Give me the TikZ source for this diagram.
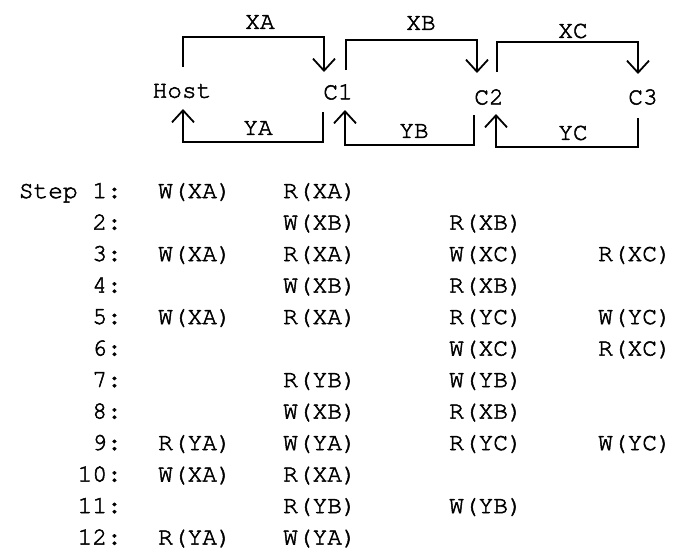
\documentclass[tikz,border=0pt]{standalone}
\usepackage{fontspec}
\setmonofont{texgyrecursor-regular.otf}[FakeBold=2]
\usetikzlibrary{arrows.meta}
\tikzset{
  lbl/.style={font=\ttfamily\fontsize{24.5}{24.5}\selectfont, inner sep=0pt},
  cell/.style={lbl, anchor=base west},
  stepno/.style={lbl, anchor=base east},
  flow/.style={line width=1.8pt, -{Straight Barb[length=12pt,width=22pt,line width=1.8pt]}},
}
\begin{document}
\begin{tikzpicture}[x=1pt,y=-1pt]
\fill[white] (0,0) rectangle (678,550);
\useasboundingbox (0,0) rectangle (678,550);
% top diagram
\node[lbl] (host) at (182,91) {Host};
\node[lbl] (c1) at (338,92) {C1};
\node[lbl] (c2) at (489,97) {C2};
\node[lbl] (c3) at (643,97) {C3};
\coordinate (xa1) at (183,67);  \coordinate (xa2) at (324,72);
\coordinate (xb1) at (346,70);  \coordinate (xb2) at (477,73);
\coordinate (xc1) at (497,72);  \coordinate (xc2) at (638,74);
\coordinate (ya1) at (323,112); \coordinate (ya2) at (183,109);
\coordinate (yb1) at (474,115); \coordinate (yb2) at (345,110);
\coordinate (yc1) at (638,118); \coordinate (yc2) at (496,114);
\draw[flow] (xa1) -- ++(0,-30) -| (xa2);
\draw[flow] (xb1) -- ++(0,-30) -| (xb2);
\draw[flow] (xc1) -- ++(0,-30) -| (xc2);
\draw[flow] (ya1) -- ++(0,30) -| (ya2);
\draw[flow] (yb1) -- ++(0,30) -| (yb2);
\draw[flow] (yc1) -- ++(0,29) -| (yc2);
\node[lbl] (lxa) at (260,22) {XA};
\node[lbl] (lxb) at (421,23) {XB};
\node[lbl] (lxc) at (573,31) {XC};
\node[lbl] (lya) at (258,128) {YA};
\node[lbl] (lyb) at (414,131) {YB};
\node[lbl] (lyc) at (573,133) {YC};
% table
\foreach \r/\s/\a/\b/\c/\d in {
 1/Step 1:/W(XA)/R(XA)//,
 2/2://W(XB)/R(XB)/,
 3/3:/W(XA)/R(XA)/W(XC)/R(XC),
 4/4://W(XB)/R(XB)/,
 5/5:/W(XA)/R(XA)/R(YC)/W(YC),
 6/6:///W(XC)/R(XC),
 7/7://R(YB)/W(YB)/,
 8/8://W(XB)/R(XB)/,
 9/9:/R(YA)/W(YA)/R(YC)/W(YC),
 10/10:/W(XA)/R(XA)//,
 11/11://R(YB)/W(YB)/,
 12/12:/R(YA)/W(YA)//}{
  \pgfmathsetmacro\yy{198+31.5*(\r-1)}
  \node[stepno] (s\r) at (122,\yy) {\s};
  \node[cell] (a\r) at (158,\yy) {\a};
  \node[cell] (b\r) at (283,\yy) {\b};
  \node[cell] (c\r) at (449,\yy) {\c};
  \node[cell] (d\r) at (598,\yy) {\d};
}
\end{tikzpicture}
\end{document}
